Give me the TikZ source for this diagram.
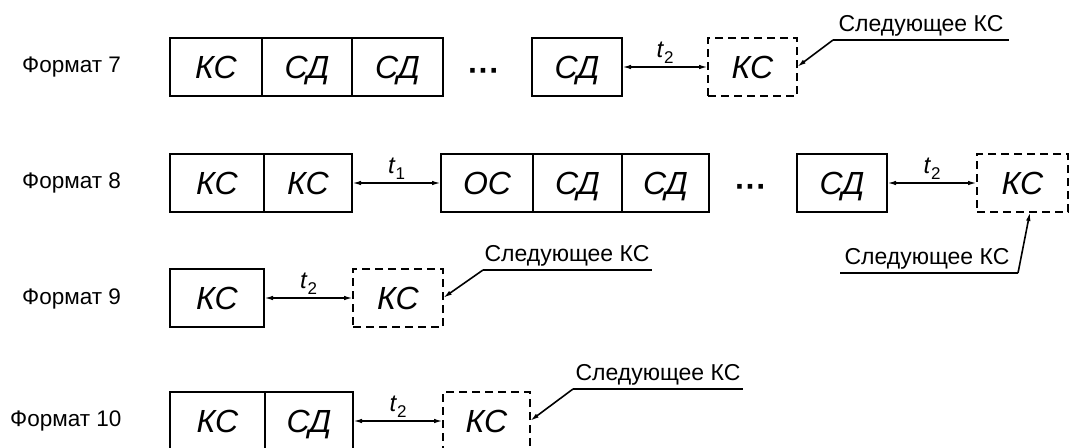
\documentclass[tikz,border=0pt]{standalone}
\usepackage{fontspec}
\setmainfont{Liberation Sans}
\usetikzlibrary{arrows.meta}
\begin{document}
\begin{tikzpicture}[x=1pt,y=-1pt,
  cell/.style={draw,line width=2pt,minimum height=58pt,inner sep=0pt,outer sep=0pt,
    text height=23pt,text depth=0pt,
    font=\fontsize{32}{36}\selectfont\itshape},
  nextcell/.style={cell,dashed,dash pattern=on 8pt off 5pt},
  fmt/.style={anchor=west,inner sep=0pt,font=\fontsize{22.5}{26}\selectfont},
  nlab/.style={anchor=base,inner sep=0pt,font=\fontsize{23}{27}\selectfont},
  gap/.style={line width=1.6pt,{Latex[length=9pt,width=4.5pt]}-{Latex[length=9pt,width=4.5pt]}},
  lead/.style={line width=1.6pt,-{Latex[length=9pt,width=4.5pt]}},
  uline/.style={line width=1.6pt},
  tlab/.style={above=3pt,inner sep=0pt,font=\fontsize{24}{28}\selectfont},
  dots/.style={inner sep=0pt,yshift=-8pt,font=\fontsize{32}{36}\selectfont\bfseries}]
\useasboundingbox (0,0) rectangle (1070,447);
% ---------- Format 7
\node[fmt] (f7) at (22,67) {Формат 7};
\node[cell,minimum width=92pt] (a1) at (216,67) {КС};
\node[cell,minimum width=90pt] (a2) at (307,67) {СД};
\node[cell,minimum width=91pt] (a3) at (397.5,67) {СД};
\node[dots] (ad) at (484,67) {···};
\node[cell,minimum width=90pt] (a4) at (577,67) {СД};
\node[nextcell,minimum width=89pt] (a5) at (752.5,67) {КС};
\draw[gap] (a4.east) -- node[tlab] (at) {\textit{t}\raisebox{-0.45ex}{\fontsize{17}{19}\selectfont 2}} (a5.west);
\coordinate (a7l) at (833,40);
\coordinate (a7r) at (1009,40);
\node[nlab] (al) at (921,31) {Следующее КС};
\draw[uline] (a7l) -- (a7r);
\draw[lead] (a7l) -- (a5.east);
% ---------- Format 8
\node[fmt] (f8) at (22,183) {Формат 8};
\node[cell,minimum width=94pt] (b1) at (217,183) {КС};
\node[cell,minimum width=88pt] (b2) at (308,183) {КС};
\node[cell,minimum width=92pt] (b3) at (487,183) {ОС};
\node[cell,minimum width=89pt] (b4) at (577.5,183) {СД};
\node[cell,minimum width=87pt] (b5) at (665.5,183) {СД};
\node[dots] (bd) at (751,183) {···};
\node[cell,minimum width=90pt] (b6) at (842,183) {СД};
\node[nextcell,minimum width=91pt] (b7) at (1022.5,183) {КС};
\draw[gap] (b2.east) -- node[tlab] (bt1) {\textit{t}\raisebox{-0.45ex}{\fontsize{17}{19}\selectfont 1}} (b3.west);
\draw[gap] (b6.east) -- node[tlab] (bt2) {\textit{t}\raisebox{-0.45ex}{\fontsize{17}{19}\selectfont 2}} (b7.west);
\coordinate (b8l) at (840,273);
\coordinate (b8r) at (1018,273);
\node[nlab] (bl) at (927,264) {Следующее КС};
\draw[uline] (b8l) -- (b8r);
\draw[lead] (b8r) -- (b7.south -| 1030,0);
% ---------- Format 9
\node[fmt] (f9) at (22,299) {Формат 9};
\node[cell,minimum width=94pt] (c1) at (217,298) {КС};
\node[nextcell,minimum width=90pt] (c2) at (398,298) {КС};
\draw[gap] (c1.east) -- node[tlab] (ct) {\textit{t}\raisebox{-0.45ex}{\fontsize{17}{19}\selectfont 2}} (c2.west);
\coordinate (c9l) at (483,270);
\coordinate (c9r) at (652,270);
\node[nlab] (cl) at (567,261) {Следующее КС};
\draw[uline] (c9l) -- (c9r);
\draw[lead] (c9l) -- (c2.east);
% ---------- Format 10
\node[fmt] (f10) at (10,421) {Формат 10};
\node[cell,minimum width=95pt] (d1) at (217.5,421) {КС};
\node[cell,minimum width=88pt] (d2) at (309,421) {СД};
\node[nextcell,minimum width=87pt] (d3) at (486.5,421) {КС};
\draw[gap] (d2.east) -- node[tlab] (dt) {\textit{t}\raisebox{-0.45ex}{\fontsize{17}{19}\selectfont 2}} (d3.west);
\coordinate (d10l) at (573,389);
\coordinate (d10r) at (743,389);
\node[nlab] (dl) at (658,380) {Следующее КС};
\draw[uline] (d10l) -- (d10r);
\draw[lead] (d10l) -- (d3.east);
\end{tikzpicture}
\end{document}
